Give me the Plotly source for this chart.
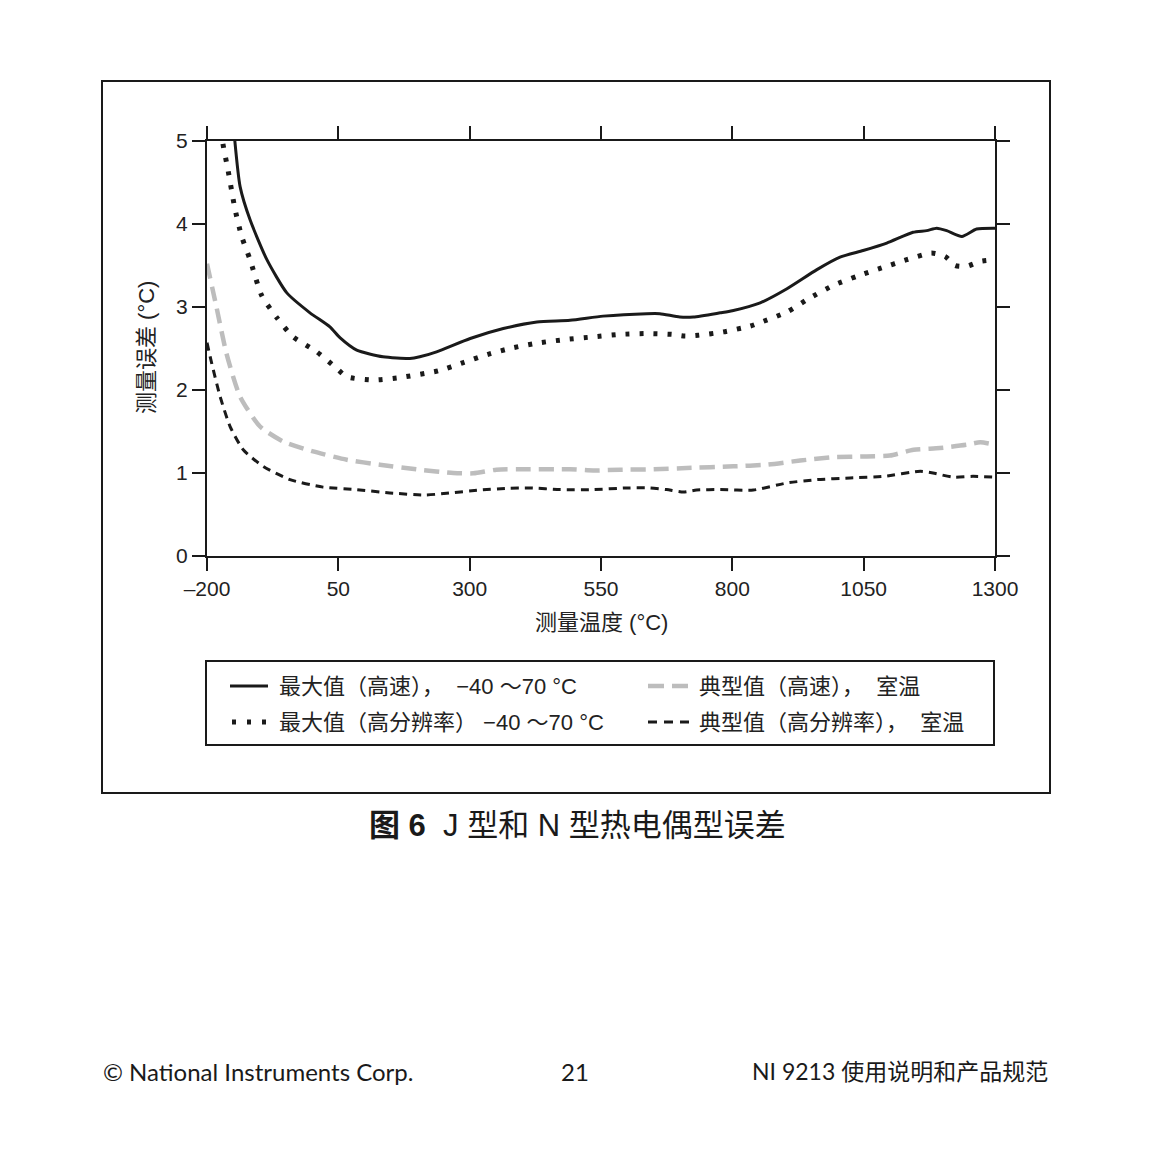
import plotly.graph_objects as go

# ---------------- data ----------------
max_fast_x = [-150, -147, -137, -118, -86, -48, -4, 34, 53, 85, 135, 186, 205, 237, 301, 364, 428, 491, 554,
              637, 662, 700, 726, 777, 800, 853, 904, 961, 1005, 1049, 1094, 1144, 1170, 1189, 1208, 1237, 1265, 1300]
max_fast_y = [5.25, 5.0, 4.45, 4.05, 3.57, 3.17, 2.93, 2.76, 2.63, 2.48, 2.40, 2.38, 2.40, 2.46, 2.62, 2.74, 2.82, 2.84, 2.89,
              2.92, 2.92, 2.88, 2.88, 2.93, 2.955, 3.05, 3.22, 3.45, 3.60, 3.68, 3.77, 3.90, 3.92, 3.95, 3.92, 3.85, 3.94, 3.95]

max_res_x = [-174, -170, -160, -147, -134, -118, -96, -67, -36, 9, 47, 66, 117, 167, 215, 240, 288, 335, 383, 434,
             485, 535, 586, 637, 685, 710, 735, 783, 834, 856, 904, 945, 992, 1037, 1084, 1132, 1179, 1205, 1224,
             1246, 1272, 1300]
max_res_y = [5.3, 4.98, 4.65, 4.19, 3.85, 3.57, 3.14, 2.87, 2.64, 2.46, 2.26, 2.16, 2.12, 2.15, 2.20, 2.23, 2.33, 2.43,
             2.51, 2.57, 2.61, 2.64, 2.67, 2.68, 2.67, 2.65, 2.66, 2.70, 2.77, 2.82, 2.94, 3.10, 3.26, 3.37, 3.47,
             3.57, 3.65, 3.61, 3.50, 3.49, 3.55, 3.57]

typ_fast_x = [-200, -182, -163, -137, -99, -55, 2, 66, 129, 205, 269, 307, 351, 415, 491, 535, 586, 650, 713,
              802, 865, 929, 992, 1056, 1100, 1145, 1195, 1246, 1272, 1300]
typ_fast_y = [3.52, 3.00, 2.44, 1.92, 1.56, 1.38, 1.26, 1.16, 1.10, 1.04, 1.00, 0.996, 1.04, 1.045, 1.045, 1.03,
              1.04, 1.045, 1.06, 1.08, 1.10, 1.15, 1.19, 1.20, 1.21, 1.28, 1.30, 1.34, 1.37, 1.34]

typ_res_x = [-200, -191, -175, -156, -131, -93, -42, 21, 85, 148, 215, 256, 320, 370, 415, 472, 535, 599, 643,
             675, 707, 732, 777, 840, 904, 961, 1024, 1088, 1158, 1182, 1220, 1258, 1300]
typ_res_y = [2.57, 2.32, 1.92, 1.56, 1.28, 1.08, 0.92, 0.83, 0.80, 0.76, 0.735, 0.755, 0.795, 0.815, 0.82, 0.80,
             0.80, 0.82, 0.82, 0.80, 0.77, 0.795, 0.80, 0.795, 0.88, 0.92, 0.94, 0.96, 1.02, 1.00, 0.95, 0.96, 0.95]

x_ticks = [-200, 50, 300, 550, 800, 1050, 1300]
x_tick_text = ["\u2013200", "50", "300", "550", "800", "1050", "1300"]
y_ticks = [0, 1, 2, 3, 4, 5]

legend_labels = ["最大值（高速）， \u00a0\u221240 \uff5e70 °C", "最大值（高分辨率） \u221240 \uff5e70 °C",
                 "典型值（高速）， \u00a0室温", "典型值（高分辨率）， \u00a0室温"]

# ---------------- layout helpers ----------------
W, H = 1152, 1152
OFF = 8  # page offset of the figure inside the browser window
L, R, T, B = 207, 995, 141, 556  # plot area in screenshot pixels
PW, PH = R - L, B - T


def px(x):
    return (x - L) / PW


def py(y):
    return (B - y) / PH


CJK = "Liberation Sans, Noto Sans CJK SC, sans-serif"
FOOT = "Lato, Noto Sans CJK SC, sans-serif"

fig = go.Figure()
fig.add_trace(go.Scatter(x=max_fast_x, y=max_fast_y, mode="lines", line=dict(color="#1a1a1a", width=3, shape="spline", smoothing=0.6), showlegend=False))
fig.add_trace(go.Scatter(x=max_res_x, y=max_res_y, mode="lines", line=dict(color="#1a1a1a", width=5, dash="4px,10px", shape="spline", smoothing=0.6), showlegend=False))
fig.add_trace(go.Scatter(x=typ_fast_x, y=typ_fast_y, mode="lines", line=dict(color="#bdbdbd", width=4.5, dash="15px,8px", shape="spline", smoothing=0.6), showlegend=False))
fig.add_trace(go.Scatter(x=typ_res_x, y=typ_res_y, mode="lines", line=dict(color="#1a1a1a", width=3, dash="8px,6px", shape="spline", smoothing=0.6), showlegend=False))

axis_common = dict(showline=True, linecolor="#1a1a1a", linewidth=2, mirror="ticks", ticks="outside",
                   ticklen=13, tickwidth=2, tickcolor="#1a1a1a", showgrid=False, zeroline=False,
                   tickfont=dict(family="Liberation Sans, Arial, sans-serif", size=21, color="#222222"))

fig.update_xaxes(range=[-200, 1300], tickvals=x_ticks, ticktext=x_tick_text, **axis_common)
fig.update_yaxes(range=[0, 5], tickvals=y_ticks, **axis_common)

shapes = []
annotations = []
# outer frame
shapes.append(dict(type="rect", xref="paper", yref="paper", x0=px(102), x1=px(1050), y0=py(793), y1=py(81),
                   line=dict(color="#1a1a1a", width=2)))
# legend frame
shapes.append(dict(type="rect", xref="paper", yref="paper", x0=px(206), x1=px(994), y0=py(745), y1=py(661),
                   line=dict(color="#1a1a1a", width=2)))

# legend samples
samples = [
    (230, 268, 686, dict(color="#1a1a1a", width=3)),
    (232, 272, 722, dict(color="#1a1a1a", width=5, dash="4px,11px")),
    (648, 692, 686, dict(color="#bdbdbd", width=4.5, dash="16px,8px")),
    (648, 694, 722, dict(color="#1a1a1a", width=3, dash="9px,7px")),
]
for x0, x1, yy, ln in samples:
    shapes.append(dict(type="line", xref="paper", yref="paper", x0=px(x0), x1=px(x1), y0=py(yy), y1=py(yy), line=ln))

legend_pos = [(277, 686), (277, 722), (697, 686), (697, 722)]
for (lx, ly), txt in zip(legend_pos, legend_labels):
    annotations.append(dict(text=txt, xref="paper", yref="paper", x=px(lx), y=py(ly), xanchor="left", yanchor="middle",
                            showarrow=False, font=dict(family=CJK, size=22, color="#222222")))

# axis titles
annotations.append(dict(text="测量温度 (°C)", xref="paper", yref="paper", x=px(601), y=py(622), xanchor="center",
                        yanchor="middle", showarrow=False, font=dict(family=CJK, size=22, color="#222222")))
annotations.append(dict(text="测量误差 (°C)", xref="paper", yref="paper", x=px(146), y=py(348), xanchor="center",
                        yanchor="middle", textangle=-90, showarrow=False, font=dict(family=CJK, size=22, color="#222222")))

# caption
annotations.append(dict(text="<b>图 6</b>  J 型和 N 型热电偶型误差", xref="paper", yref="paper", x=px(577), y=py(825),
                        xanchor="center", yanchor="middle", showarrow=False,
                        font=dict(family="Liberation Sans, Noto Sans CJK SC, sans-serif", size=31, color="#1a1a1a")))

# footer
annotations.append(dict(text="© National Instruments Corp.", xref="paper", yref="paper", x=px(101), y=py(1071),
                        xanchor="left", yanchor="middle", showarrow=False, font=dict(family=FOOT, size=24, color="#1a1a1a")))
annotations.append(dict(text="21", xref="paper", yref="paper", x=px(575), y=py(1071),
                        xanchor="center", yanchor="middle", showarrow=False, font=dict(family=FOOT, size=24, color="#1a1a1a")))
annotations.append(dict(text="NI 9213 使用说明和产品规范", xref="paper", yref="paper", x=px(1050), y=py(1071),
                        xanchor="right", yanchor="middle", showarrow=False, font=dict(family=FOOT, size=23, color="#1a1a1a")))

fig.update_layout(width=W, height=H,
                  margin=dict(l=L - OFF, r=W - (R - OFF), t=T - OFF, b=H - (B - OFF), pad=0),
                  paper_bgcolor="white", plot_bgcolor="white", shapes=shapes, annotations=annotations,
                  showlegend=False)

fig.write_html("out.html")
